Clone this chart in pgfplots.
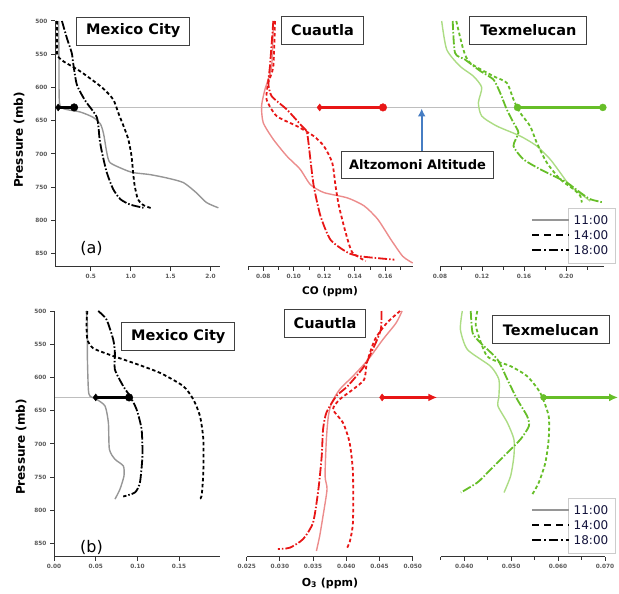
\documentclass[border=0pt]{standalone}
\usepackage{fontspec}
\setmainfont{DejaVu Sans}
\usepackage{pgfplots}
\pgfplotsset{compat=1.18}
\usetikzlibrary{arrows.meta}
\pgfdeclarelayer{bg}
\pgfsetlayers{bg,main}
\definecolor{cgray}{RGB}{150,150,150}
\definecolor{cred}{RGB}{232,22,22}
\definecolor{cpink}{RGB}{236,140,140}
\definecolor{cgreen}{RGB}{102,190,40}
\definecolor{clgreen}{RGB}{172,220,132}
\definecolor{cref}{RGB}{190,190,190}
\definecolor{cblue}{RGB}{70,125,195}
\definecolor{ctick}{RGB}{90,90,90}
\definecolor{cleg}{RGB}{20,20,60}
\pgfplotsset{
  panel/.style={scale only axis, height=246pt, ymin=500, ymax=870, y dir=reverse,
    clip=false, axis x line*=bottom, anchor=south west, scaled x ticks=false,
    axis line style={line width=1pt, black!80}, tick align=outside,
    major tick length=4pt, minor tick length=3pt,
    every tick/.style={line width=1pt, black!80},
    every minor tick/.style={line width=1pt, black!80},
    ticklabel style={font=\fontsize{5.8}{6}\selectfont\bfseries, text=ctick}},
  noy/.style={axis y line=none},
  withy/.style={axis y line*=left, ytick={500,550,600,650,700,750,800,850},
    yticklabels={500,550,600,650,700,750,800,850}},
  s11/.style={line width=1.4pt, smooth, tension=0.4},
  sdsh/.style={line width=1.8pt, smooth, tension=0.4, dash pattern=on 3.5pt off 2.5pt},
  sdd/.style={line width=1.8pt, smooth, tension=0.4, dash pattern=on 9pt off 2pt on 1.5pt off 2pt},
  mline/.style={line width=2.6pt},
}
\begin{document}
\begin{tikzpicture}
\useasboundingbox (0pt,0pt) rectangle (619pt,594pt);
% ---------------- Top row: CO
\begin{axis}[panel, withy, at={(55pt,327pt)}, width=165pt, xmin=0.05, xmax=2.12,
  xtick={0.5,1.0,1.5,2.0}, xticklabels={0.5,1.0,1.5,2.0}]
\coordinate (A1) at (axis cs:0.05,630);
\addplot[cgray, s11] coordinates {(0.095,500) (0.10,560) (0.105,622) (0.16,632) (0.37,637) (0.53,645) (0.62,655) (0.66,670) (0.70,698) (0.74,713) (0.91,723) (1.03,728) (1.24,731) (1.45,736) (1.66,743) (1.82,758) (1.95,773) (2.10,781)};
\addplot[black, sdsh] coordinates {(0.075,500) (0.075,548) (0.10,555) (0.16,561) (0.37,576) (0.64,600) (0.78,618) (0.85,640) (0.91,658) (0.97,678) (1.01,703) (1.03,728) (1.05,748) (1.09,768) (1.16,777) (1.27,782)};
\addplot[black, sdd] coordinates {(0.137,500) (0.20,526) (0.26,548) (0.28,565) (0.325,596) (0.43,620) (0.575,645) (0.61,678) (0.64,698) (0.70,728) (0.78,753) (0.87,768) (0.99,776) (1.16,781)};
\addplot[black, mline] coordinates {(0.09,630) (0.29,630)};
\addplot[black, only marks, mark=diamond*, mark size=3.5pt] coordinates {(0.09,630)};
\addplot[black, only marks, mark=*, mark size=3.8pt] coordinates {(0.29,630)};
\end{axis}
\begin{axis}[panel, noy, at={(248pt,327pt)}, width=164.7pt, xmin=0.07, xmax=0.178,
  xtick={0.08,0.10,0.12,0.14,0.16}, xticklabels={0.08,0.10,0.12,0.14,0.16},
  minor xtick={0.07,0.09,0.11,0.13,0.15,0.17}]
\addplot[cpink, s11] coordinates {(0.0866,500) (0.0855,568) (0.0811,603) (0.0789,628) (0.080,653) (0.0866,678) (0.0954,703) (0.1042,723) (0.1109,746) (0.1197,758) (0.1351,766) (0.1461,778) (0.155,798) (0.1638,829) (0.1715,854) (0.178,864)};
\addplot[cred, sdsh] coordinates {(0.0877,500) (0.0866,568) (0.0833,593) (0.0822,618) (0.0888,643) (0.102,658) (0.113,673) (0.1197,688) (0.1252,713) (0.1274,748) (0.1296,778) (0.134,818) (0.1384,848) (0.1472,861)};
\addplot[cred, sdd] coordinates {(0.0866,500) (0.0844,568) (0.0833,593) (0.0855,613) (0.0954,633) (0.1053,658) (0.1087,668) (0.1109,708) (0.1131,748) (0.1175,793) (0.1241,829) (0.1351,848) (0.1439,854) (0.166,859)};
\addplot[cred, mline] coordinates {(0.117,630) (0.1585,630)};
\addplot[cred, only marks, mark=diamond*, mark size=3.5pt] coordinates {(0.117,630)};
\addplot[cred, only marks, mark=*, mark size=3.8pt] coordinates {(0.1585,630)};
\end{axis}
\begin{axis}[panel, noy, at={(440pt,327pt)}, width=164pt, xmin=0.08, xmax=0.236,
  xtick={0.08,0.12,0.16,0.20}, xticklabels={0.08,0.12,0.16,0.20},
  minor xtick={0.10,0.14,0.18,0.22}]
\coordinate (A2) at (axis cs:0.236,630);
\addplot[clgreen, s11] coordinates {(0.0816,500) (0.0864,543) (0.099,568) (0.1118,583) (0.1197,600) (0.1165,623) (0.1197,643) (0.134,658) (0.1562,673) (0.172,688) (0.1848,708) (0.1943,728) (0.2038,748) (0.2165,763) (0.2229,771)};
\addplot[cgreen, sdsh] coordinates {(0.0955,500) (0.1022,543) (0.1086,563) (0.1308,583) (0.1435,593) (0.1499,618) (0.1562,638) (0.1657,658) (0.172,683) (0.1816,713) (0.1943,738) (0.207,753) (0.2134,763) (0.2149,773)};
\addplot[cgreen, sdd] coordinates {(0.0921,500) (0.0943,548) (0.1038,558) (0.1181,575) (0.1308,588) (0.1372,608) (0.1435,633) (0.1499,653) (0.1546,668) (0.1499,688) (0.1594,708) (0.1753,723) (0.188,733) (0.2007,743) (0.2134,758) (0.2229,768) (0.2356,773)};
\addplot[cgreen, mline] coordinates {(0.1537,630) (0.2349,630)};
\addplot[cgreen, only marks, mark=*, mark size=3.5pt] coordinates {(0.1537,630) (0.2349,630)};
\end{axis}
% ---------------- Bottom row: O3
\begin{axis}[panel, withy, at={(54pt,37pt)}, width=166pt, xmin=0, xmax=0.199,
  xtick={0,0.05,0.10,0.15}, xticklabels={0.00,0.05,0.10,0.15}]
\coordinate (B1) at (axis cs:0,630);
\addplot[cgray, s11] coordinates {(0.0384,500) (0.040,518) (0.040,568) (0.0412,618) (0.0432,628) (0.0512,633) (0.0612,643) (0.0652,668) (0.0664,708) (0.0731,723) (0.0831,733) (0.0839,748) (0.0791,768) (0.0731,783)};
\addplot[black, sdsh] coordinates {(0.040,500) (0.039,518) (0.040,543) (0.047,556) (0.067,566) (0.095,578) (0.127,593) (0.155,613) (0.167,633) (0.175,658) (0.179,693) (0.179,743) (0.177,778) (0.175,782)};
\addplot[black, sdd] coordinates {(0.053,500) (0.063,513) (0.071,543) (0.073,563) (0.073,588) (0.083,613) (0.091,628) (0.099,648) (0.105,678) (0.106,718) (0.103,758) (0.097,773) (0.083,779)};
\addplot[black, mline] coordinates {(0.05,630) (0.09,630)};
\addplot[black, only marks, mark=diamond*, mark size=3.5pt] coordinates {(0.05,630)};
\addplot[black, only marks, mark=*, mark size=3.8pt] coordinates {(0.09,630)};
\end{axis}
\begin{axis}[panel, noy, at={(246.7pt,37pt)}, width=166pt, xmin=0.025, xmax=0.050,
  xtick={0.025,0.030,0.035,0.040,0.045,0.050}, xticklabels={0.025,0.030,0.035,0.040,0.045,0.050}]
\addplot[cpink, s11] coordinates {(0.0484,500) (0.0475,518) (0.0455,543) (0.0433,573) (0.041,598) (0.039,618) (0.0378,638) (0.0373,658) (0.037,693) (0.0368,748) (0.0371,768) (0.0365,808) (0.036,838) (0.0355,861)};
\addplot[cred, sdsh] coordinates {(0.0481,500) (0.0461,518) (0.0443,543) (0.0431,578) (0.0427,603) (0.041,618) (0.039,633) (0.038,648) (0.0395,668) (0.0405,698) (0.041,743) (0.041,818) (0.0405,848) (0.040,858)};
\addplot[cred, sdd] coordinates {(0.0453,500) (0.0452,528) (0.0442,553) (0.0427,583) (0.0402,613) (0.0385,628) (0.037,653) (0.0365,678) (0.0363,718) (0.0358,768) (0.035,818) (0.0335,843) (0.0315,856) (0.0297,858)};
\addplot[cred, mline, -{Latex[length=9pt,width=8pt]}] coordinates {(0.0454,630) (0.0537,630)};
\addplot[cred, only marks, mark=diamond*, mark size=3.5pt] coordinates {(0.0454,630)};
\end{axis}
\begin{axis}[panel, noy, at={(440.7pt,37pt)}, width=164.3pt, xmin=0.035, xmax=0.070,
  xtick={0.040,0.050,0.060,0.070}, xticklabels={0.040,0.050,0.060,0.070},
  minor xtick={0.035,0.045,0.055,0.065}]
\coordinate (B2) at (axis cs:0.070,630);
\addplot[clgreen, s11] coordinates {(0.0396,500) (0.0392,528) (0.0407,558) (0.0456,583) (0.0474,603) (0.0474,628) (0.0472,643) (0.0492,668) (0.0506,693) (0.0506,718) (0.0499,748) (0.0485,773)};
\addplot[cgreen, sdsh] coordinates {(0.0428,500) (0.0425,523) (0.0449,568) (0.0499,583) (0.0534,598) (0.0562,623) (0.058,658) (0.058,693) (0.0573,728) (0.0559,758) (0.0545,776)};
\addplot[cgreen, sdd] coordinates {(0.0414,500) (0.0418,533) (0.0435,548) (0.0471,573) (0.0492,603) (0.0513,633) (0.0534,658) (0.0538,673) (0.052,693) (0.0485,718) (0.045,743) (0.0428,758) (0.0393,773)};
\addplot[cgreen, mline, -{Latex[length=9pt,width=8pt]}] coordinates {(0.0569,630) (0.0728,630)};
\addplot[cgreen, only marks, mark=*, mark size=3pt] coordinates {(0.0569,630)};
\end{axis}
% reference line at Altzomoni altitude
\begin{pgfonlayer}{bg}
\draw[cref, line width=1.4pt] (A1) -- (A2);
\draw[cref, line width=1.4pt] (B1) -- (B2);
\end{pgfonlayer}
% titles
\tikzset{tbox/.style={draw=black!75, fill=white, line width=0.8pt, inner sep=0pt,
  minimum height=28pt, font=\fontsize{14.5}{15}\selectfont\bfseries}}
\node[tbox, minimum width=113pt] at (133.3pt,563pt) {Mexico City};
\node[tbox, minimum width=82pt] at (322.5pt,564pt) {Cuautla};
\node[tbox, minimum width=117pt] at (528.3pt,564pt) {Texmelucan};
\node[tbox, minimum width=113pt] at (178.3pt,257.3pt) {Mexico City};
\node[tbox, minimum width=81pt] at (325pt,270.7pt) {Cuautla};
\node[tbox, minimum width=117pt] at (551pt,264.3pt) {Texmelucan};
% Altzomoni annotation
\draw[cblue, line width=2pt, -{Latex[length=8pt,width=8pt]}] (421.7pt,442.3pt) -- (421.7pt,485.5pt);
\node[draw=black!75, fill=white, line width=0.8pt, inner sep=0pt, minimum width=152pt,
  minimum height=26.6pt, font=\fontsize{13}{14}\selectfont\bfseries] at (417.5pt,429pt) {Altzomoni Altitude};
% panel letters
\node[font=\fontsize{16}{17}\selectfont] at (91.5pt,346pt) {(a)};
\node[font=\fontsize{16}{17}\selectfont] at (91.5pt,47pt) {(b)};
% axis titles
\node[rotate=90, font=\fontsize{12}{13}\selectfont\bfseries] at (19pt,454pt) {Pressure (mb)};
\node[rotate=90, font=\fontsize{12}{13}\selectfont\bfseries] at (21pt,147pt) {Pressure (mb)};
\node[font=\fontsize{10.5}{11}\selectfont\bfseries] at (330pt,302pt) {CO (ppm)};
\node[font=\fontsize{11}{12}\selectfont\bfseries] at (330pt,11pt) {O\textsubscript{3} (ppm)};
% legends
\foreach \yy in {0,-290}{
  \begin{scope}[yshift=\yy pt]
  \draw[black!20, fill=white, line width=0.6pt] (568pt,331pt) rectangle (615pt,386pt);
  \draw[cgray, line width=1.4pt] (532pt,374pt) -- (569pt,374pt);
  \draw[black, line width=1.8pt, dash pattern=on 7pt off 5pt] (532pt,359pt) -- (569pt,359pt);
  \draw[black, line width=1.8pt, dash pattern=on 9pt off 3pt on 2pt off 3pt] (532pt,344pt) -- (569pt,344pt);
  \node[text=cleg, font=\fontsize{12}{13}\selectfont] at (591pt,374pt) {11:00};
  \node[text=cleg, font=\fontsize{12}{13}\selectfont] at (591pt,359pt) {14:00};
  \node[text=cleg, font=\fontsize{12}{13}\selectfont] at (591pt,344pt) {18:00};
  \end{scope}}
\end{tikzpicture}
\end{document}
